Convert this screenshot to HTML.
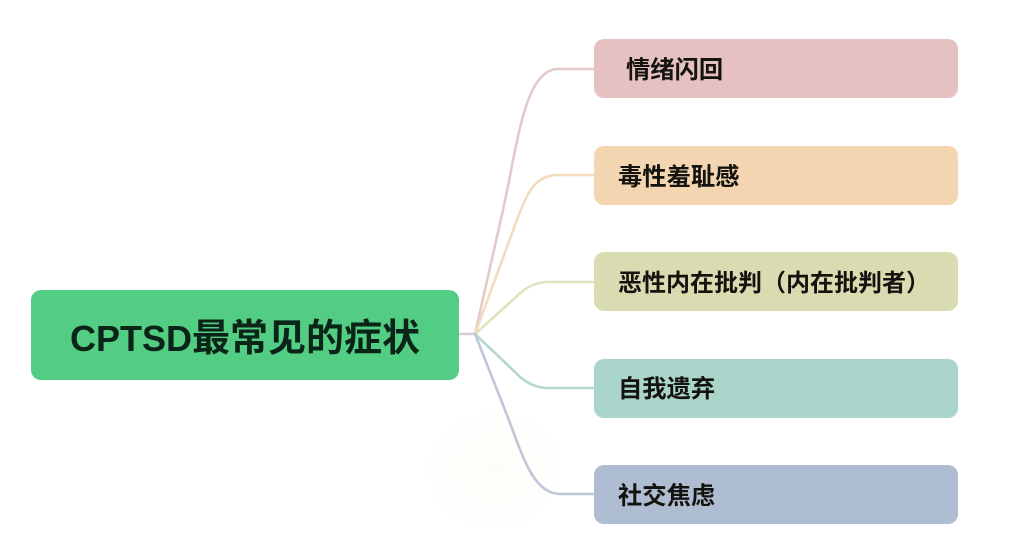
<!DOCTYPE html>
<html><head><meta charset="utf-8"><style>
html,body{margin:0;padding:0;background:#fff}
#c{position:relative;width:1023px;height:552px;overflow:hidden;background:#fff}
.b{position:absolute;left:594px;width:364px;height:59px;border-radius:10px}
.t{position:absolute;font:bold 24.3px/30px "Liberation Sans","Noto Sans CJK SC",sans-serif;color:#14130f;white-space:nowrap;filter:blur(.35px)}
svg{position:absolute;left:0;top:0}
</style></head><body><div id="c">
<svg width="1023" height="552" fill="none" stroke-width="2.6" stroke-linecap="round">
<defs><radialGradient id="g"><stop offset="0" stop-color="#fdfdf8"/><stop offset="1" stop-color="#fff"/></radialGradient></defs>
<ellipse cx="495" cy="470" rx="80" ry="70" fill="url(#g)" stroke="none"/>
<path d="M459 334H475" stroke="#d5cbd8"/>
<path d="M475 334L503 210C517 148 524 69 558 69H594" stroke="#e4c9c9"/>
<path d="M475 334L518 217C528 192 535 175 558 175H594" stroke="#f1dcbc"/>
<path d="M475 334L515 298Q530 282 548 282H594" stroke="#e2e3bd"/>
<path d="M475 334L515 372Q530 388 548 388H594" stroke="#b4d8d0"/>
<path d="M475 334L505 410C522 453 532 494 560 494H594" stroke="#bfc6d8"/>
</svg>
<div class="b" style="left:31px;top:290px;width:428px;height:90px;background:#52cd83;border-radius:10px"></div>
<div class="t" style="left:70px;top:317px;font-size:36px;line-height:44px;font-weight:bold;color:#0a2418">CPTSD<span style="font-size:38px;letter-spacing:0">最常见的症状</span></div>
<div class="b" style="top:39px;background:#e6c1c1"></div><div class="t" style="left:626px;top:56px">情绪闪回</div>
<div class="b" style="top:146px;background:#f3d5b1"></div><div class="t" style="left:618px;top:163px">毒性羞耻感</div>
<div class="b" style="top:252px;background:#d9dcb0"></div><div class="t" style="left:618px;top:269px;font-size:24px">恶性内在批判（内在批判者）</div>
<div class="b" style="top:359px;background:#a9d5ca"></div><div class="t" style="left:618px;top:375px">自我遗弃</div>
<div class="b" style="top:465px;background:#aebdd1"></div><div class="t" style="left:618px;top:482px">社交焦虑</div>
</div></body></html>
